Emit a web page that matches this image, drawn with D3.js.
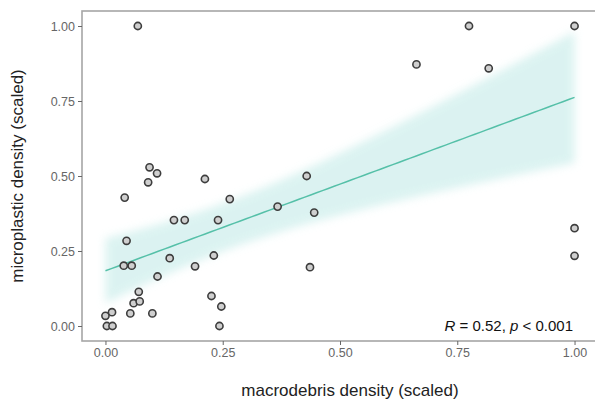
<!DOCTYPE html>
<html><head><meta charset="utf-8">
<script src="https://cdn.jsdelivr.net/npm/d3@7"></script>
<style>body{margin:0;background:#fff;} svg{display:block;font-family:"Liberation Sans",Arial,sans-serif;}</style>
</head><body>
<script>
// macrodebris density (scaled)
const xVals = [0.069,0.775,1.00,0.663,0.817,0.094,0.110,0.091,0.041,0.212,0.265,0.429,0.146,0.169,0.240,0.367,0.445,0.045,0.137,0.231,0.039,0.056,0.191,0.436,0.111,0.071,0.060,0.073,0.053,0.100,0.000,0.014,0.003,0.015,0.226,0.247,0.243,1.00,1.00];
// microplastic density (scaled)
const yVals = [1.00,1.00,1.00,0.872,0.859,0.529,0.509,0.479,0.428,0.490,0.423,0.500,0.353,0.353,0.353,0.398,0.378,0.284,0.226,0.235,0.201,0.201,0.199,0.196,0.165,0.114,0.076,0.082,0.042,0.042,0.034,0.046,0.000,0.000,0.100,0.065,0.000,0.326,0.234];
const xTicks = [0, 0.25, 0.5, 0.75, 1.0];
const yTicks = [0, 0.25, 0.5, 0.75, 1.0];
// fitted line (intercept, slope)
const fitCoef = [0.184, 0.578];
const xTitle = "macrodebris density (scaled)";
const yTitle = "microplastic density (scaled)";

const W = 595, H = 401;
const svg = d3.select("body").append("svg").attr("width", W).attr("height", H);
const x = d3.scaleLinear().domain([-0.05, 1.05]).range([82, 598]);
const y = d3.scaleLinear().domain([-0.05, 1.05]).range([341, 11]);

// 95% CI around the fitted line
const n = xVals.length;
const mx = d3.mean(xVals);
const a = fitCoef[0], b = fitCoef[1];
let sxx = 0, sse = 0;
for (let i = 0; i < n; i++) { sxx += (xVals[i]-mx)**2; sse += (yVals[i] - a - b*xVals[i])**2; }
const s = Math.sqrt(sse / (n - 2));
const t = 2.026;
const xmin = d3.min(xVals), xmax = d3.max(xVals);
const grid = d3.range(0, 81).map(i => xmin + (xmax - xmin) * i / 80);
const band = grid.map(g => {
  const f = a + b*g;
  const se = s * Math.sqrt(1/n + (g-mx)**2 / sxx);
  return {x: g, f, lo: f - t*se, hi: f + t*se};
});

const defs = svg.append("defs");
defs.append("filter").attr("id", "blur").attr("x", "-10%").attr("y", "-20%").attr("width", "120%").attr("height", "140%")
  .append("feGaussianBlur").attr("stdDeviation", 4);

svg.append("path").datum(band)
  .attr("d", d3.area().x(d => x(d.x)).y0(d => y(d.lo)).y1(d => y(d.hi)))
  .attr("fill", "#c4ebe8").attr("opacity", 0.6).attr("filter", "url(#blur)");
svg.append("path").datum(band)
  .attr("d", d3.line().x(d => x(d.x)).y(d => y(d.f)))
  .attr("fill", "none").attr("stroke", "#55c0a8").attr("stroke-width", 1.5);

// points
svg.append("g").selectAll("circle").data(d3.range(n)).join("circle")
  .attr("cx", i => x(xVals[i])).attr("cy", i => y(yVals[i])).attr("r", 3.6)
  .attr("fill", "#cfcfcf").attr("stroke", "#3d3d3d").attr("stroke-width", 1.6);

// panel border
svg.append("rect").attr("x", 82).attr("y", 11).attr("width", 516).attr("height", 330)
  .attr("fill", "none").attr("stroke", "#a6a6a6").attr("stroke-width", 1.6);

// axes
const xAxis = svg.append("g").attr("transform", "translate(0,341)")
  .call(d3.axisBottom(x).tickValues(xTicks).tickFormat(d3.format(".2f")).tickSize(4).tickPadding(3));
const yAxis = svg.append("g").attr("transform", "translate(82,0)")
  .call(d3.axisLeft(y).tickValues(yTicks).tickFormat(d3.format(".2f")).tickSize(4).tickPadding(3));
[xAxis, yAxis].forEach(g => {
  g.select(".domain").remove();
  g.selectAll(".tick line").attr("stroke", "#666");
  g.selectAll(".tick text").attr("fill", "#666").style("font-size", "12.5px");
});

svg.append("text").attr("x", 350).attr("y", 396).attr("text-anchor", "middle")
  .attr("fill", "#222").style("font-size", "17px").text(xTitle);
svg.append("text").attr("transform", "translate(23,176) rotate(-90)").attr("text-anchor", "middle")
  .attr("fill", "#222").style("font-size", "17px").text(yTitle);

// annotation
const ann = svg.append("text").attr("x", 573).attr("y", 331).attr("text-anchor", "end")
  .attr("fill", "#111").style("font-size", "15px");
ann.append("tspan").style("font-style", "italic").text("R");
ann.append("tspan").text(" = 0.52, ");
ann.append("tspan").style("font-style", "italic").text("p");
ann.append("tspan").text(" < 0.001");
</script>
</body></html>
